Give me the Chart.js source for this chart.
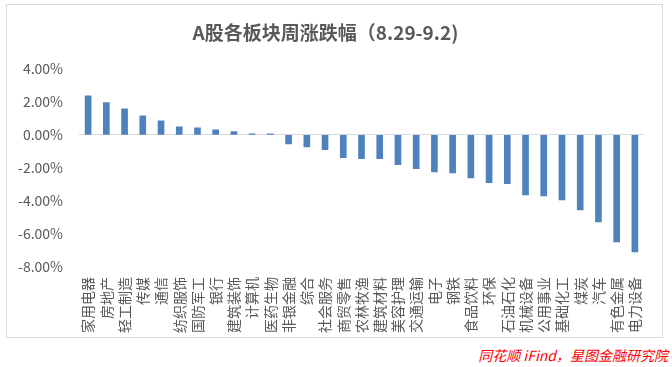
<!DOCTYPE html>
<html>
<head>
<meta charset="utf-8">
<script src="https://cdn.jsdelivr.net/npm/chart.js@4/dist/chart.umd.min.js"></script>
<style>
  html, body { margin: 0; padding: 0; background: #fff; }
  body { width: 672px; height: 367px; position: relative; overflow: hidden; }
  #box { position: absolute; left: 6px; top: 4px; width: 655px; height: 332px; border: 1px solid #d9d9d9; }
  #box canvas { display: block; }
  #src { position: absolute; right: 4px; top: 345px; font: italic 14px "Noto Sans CJK SC", sans-serif; color: #ff0000; white-space: nowrap; }
</style>
</head>
<body>
<div id="box"><canvas id="c" width="655" height="332"></canvas></div>
<div id="src">同花顺 iFind，星图金融研究院</div>
<script>
const categories = ["家用电器","房地产","轻工制造","传媒","通信","纺织服饰","国防军工","银行","建筑装饰","计算机","医药生物","非银金融","综合","社会服务","商贸零售","农林牧渔","建筑材料","美容护理","交通运输","电子","钢铁","食品饮料","环保","石油石化","机械设备","公用事业","基础化工","煤炭","汽车","有色金属","电力设备"];
const weeklyChange = [2.36,1.96,1.57,1.15,0.85,0.48,0.42,0.30,0.20,0.06,0.06,-0.55,-0.73,-0.89,-1.38,-1.44,-1.44,-1.80,-2.05,-2.24,-2.30,-2.60,-2.90,-2.96,-3.63,-3.70,-3.94,-4.55,-5.27,-6.48,-7.09];
const yTicks = [4,2,0,-2,-4,-6,-8];
const titleText = "A股各板块周涨跌幅（8.29-9.2)";

const FONT = '"Noto Sans CJK SC", "Noto Sans", sans-serif';
new Chart(document.getElementById('c'), {
  type: 'bar',
  data: {
    labels: categories,
    datasets: [{
      data: weeklyChange,
      backgroundColor: '#4f81bd',
      borderWidth: 0,
      barThickness: 6
    }]
  },
  options: {
    responsive: false,
    animation: false,
    layout: { padding: { left: 0, right: 18, top: 0, bottom: 0 } },
    plugins: {
      legend: { display: false },
      tooltip: { enabled: false },
      title: {
        display: true,
        text: titleText,
        color: '#595959',
        font: { family: FONT, size: 19, weight: 'bold' },
        padding: { top: 16, bottom: 25 }
      }
    },
    scales: {
      x: {
        grid: { display: false, drawTicks: false },
        border: { display: false },
        ticks: {
          autoSkip: false,
          minRotation: 90,
          maxRotation: 90,
          padding: 10,
          color: '#595959',
          font: { family: FONT, size: 14 }
        },
        afterFit: (s) => { s.height = 70; }
      },
      y: {
        min: -8,
        max: 4,
        afterBuildTicks: (s) => { s.ticks = yTicks.map(v => ({ value: v })); },
        grid: {
          drawTicks: false,
          color: (ctx) => (ctx.tick && ctx.tick.value === 0) ? '#d9d9d9' : 'rgba(0,0,0,0)',
          lineWidth: 1
        },
        border: { display: false },
        ticks: {
          padding: 16,
          color: '#595959',
          font: { family: FONT, size: 14 },
          callback: (v) => v.toFixed(2) + '%'
        },
        afterFit: (s) => { s.width = 72; }
      }
    }
  }
});
</script>
</body>
</html>
